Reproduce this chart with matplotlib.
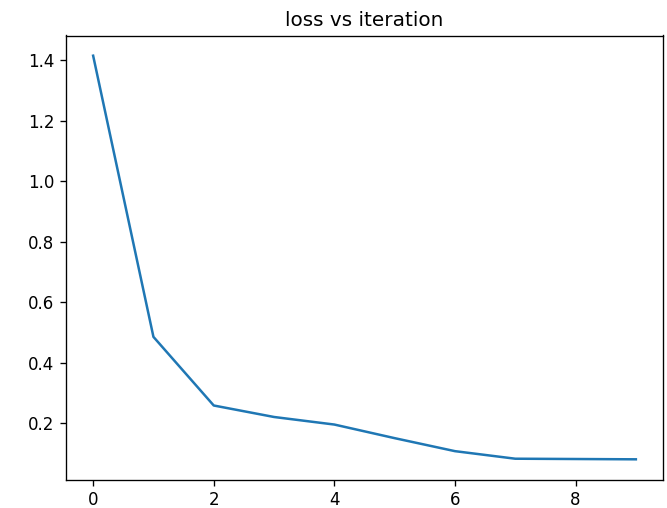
import matplotlib
matplotlib.use("Agg")
import matplotlib.pyplot as plt

iterations = list(range(10))
loss = [1.415, 0.485, 0.258, 0.220, 0.195, 0.150, 0.107, 0.082, 0.081, 0.080]

W, H, DPI = 667, 508, 120
fig = plt.figure(figsize=(W / DPI, H / DPI), dpi=DPI)
ax = fig.add_axes([66 / W, 1 - 479.5 / H, (663 - 66) / W, (479.5 - 35.5) / H])
ax.plot(iterations, loss, color="#1f77b4", linewidth=1.5)
ax.set_title("loss vs iteration")
fig.savefig("out.png", dpi=DPI)
